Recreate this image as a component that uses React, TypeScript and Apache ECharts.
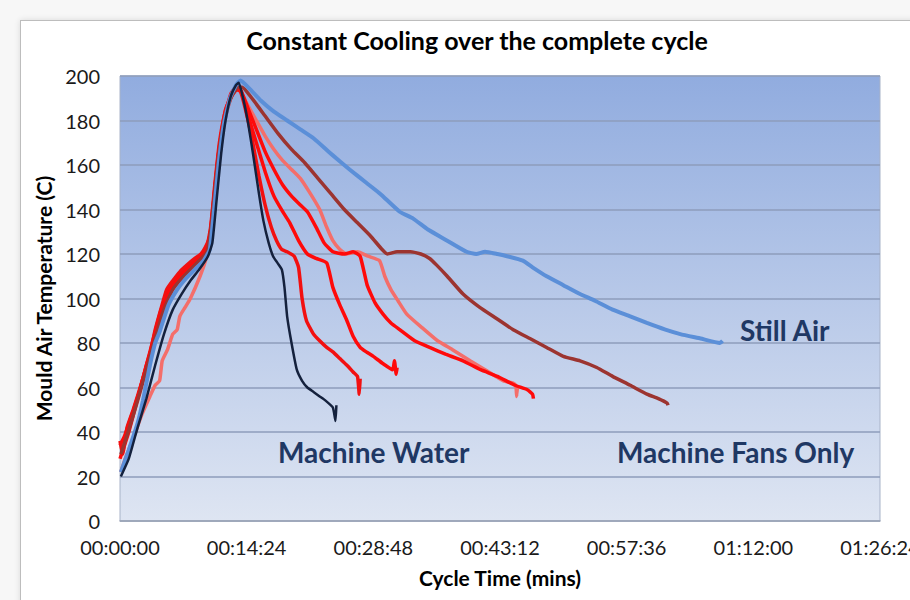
import React, { useEffect, useRef } from "react";
import * as echarts from "echarts";

// Time in minutes, temperature in °C
const xTickLabels = ["00:00:00", "00:14:24", "00:28:48", "00:43:12", "00:57:36", "01:12:00", "01:26:24"];
const yTicks = [0, 20, 40, 60, 80, 100, 120, 140, 160, 180, 200];

const titleText = "Constant Cooling over the complete cycle";
const xAxisName = "Cycle Time (mins)";
const yAxisName = "Mould Air Temperature (C)";
const annotations = ["Still Air", "Machine Water", "Machine Fans Only"];

const pinkRun: [number, number][] = [
  [0.1, 22], [0.6, 28], [1.5, 37], [2.5, 48], [3.4, 56], [4.0, 61], [4.5, 63], [4.8, 72], [5.4, 77],
  [6.0, 84], [6.5, 86], [6.8, 92], [7.4, 96], [8.0, 100], [9.1, 110], [9.8, 118], [10.3, 126],
  [10.8, 145], [11.3, 163], [11.9, 180], [12.6, 190], [13.2, 194], [13.7, 193],
  [14.5, 187], [15.5, 180], [16.5, 173], [17.5, 167], [18.5, 162], [19.5, 158], [20.5, 154],
  [21.5, 148], [22.7, 140], [23.5, 132], [24.2, 126], [25.0, 122], [25.8, 120], [27.0, 121],
  [28.2, 119], [29.5, 117], [30.1, 110], [30.8, 104], [31.6, 99], [32.6, 93], [34.3, 87],
  [36.1, 81], [37.8, 77], [39.8, 72], [41.5, 68], [43.6, 63], [44.7, 62], [45.0, 61], [45.1, 56], [45.2, 61],
];

const redRun3: [number, number][] = [
  [0.0, 34], [0.5, 38], [1.2, 46], [2.2, 58], [3.0, 70], [3.8, 82], [4.6, 94], [5.4, 102],
  [6.2, 108], [7.0, 111], [8.0, 115], [9.0, 118], [9.8, 122], [10.3, 132], [10.8, 152],
  [11.3, 170], [11.9, 183], [12.6, 191], [13.3, 194], [13.8, 193],
  [14.5, 186], [15.5, 176], [16.5, 166], [17.5, 158], [18.5, 151], [19.5, 146], [20.5, 142],
  [21.3, 139], [22.3, 132], [23.2, 125], [24.2, 121], [25.5, 120], [26.5, 121], [27.3, 119],
  [28.1, 106], [29.0, 98], [29.9, 93], [30.8, 89], [31.8, 86], [33.5, 81], [35.2, 78],
  [37.0, 75], [39.0, 72], [41.0, 68], [42.9, 65], [44.9, 61], [46.3, 59], [46.9, 57], [47.0, 55],
];

const redRun2: [number, number][] = [
  [0.0, 28], [1.0, 40], [2.0, 55], [3.0, 70], [4.0, 83], [5.0, 97], [6.0, 105], [7.0, 110],
  [8.0, 114], [9.0, 117], [9.8, 121], [10.3, 130], [10.8, 150], [11.3, 168], [11.9, 182],
  [12.6, 192], [13.2, 195], [13.7, 194],
  [14.5, 183], [15.5, 170], [16.5, 157], [17.5, 146], [18.5, 139], [19.3, 134], [20.3, 126],
  [21.3, 120], [22.3, 118], [23.5, 116], [24.2, 105], [25.0, 97], [25.8, 90], [26.5, 83],
  [27.3, 78], [28.0, 76], [28.8, 74], [29.8, 71], [31.0, 68], [31.2, 72], [31.4, 66], [31.5, 69],
];

const redRun1: [number, number][] = [
  [0.0, 36], [0.3, 30], [0.8, 42], [1.5, 50], [2.6, 64], [3.4, 75], [4.0, 86], [4.7, 96],
  [5.3, 104], [6.0, 108], [6.8, 112], [7.6, 115], [8.5, 118], [9.2, 120], [9.7, 123], [10.2, 128],
  [10.6, 142], [11.1, 162], [11.6, 176], [12.0, 185], [12.7, 191], [13.3, 194], [13.7, 193],
  [14.2, 186], [15.0, 172], [15.8, 155], [16.5, 142], [17.2, 132], [17.8, 126], [18.4, 122],
  [19.0, 121], [19.8, 119], [20.3, 114], [20.7, 100], [21.2, 90], [22.0, 84], [22.7, 81],
  [23.5, 78], [24.2, 76], [25.0, 73], [25.8, 70], [26.5, 67], [27.0, 65], [27.2, 57], [27.3, 64],
];

const brownRun: [number, number][] = [
  [0.1, 30], [1.0, 41], [2.0, 54], [3.0, 68], [4.0, 82], [5.0, 95], [6.0, 104], [7.0, 109],
  [8.0, 113], [9.0, 117], [9.9, 121], [10.4, 133], [10.9, 153], [11.4, 170], [12.0, 183],
  [12.7, 191], [13.4, 195], [13.9, 195],
  [15.0, 190], [16.5, 182], [18.0, 174], [19.5, 167], [21.0, 161], [22.5, 154], [24.0, 147],
  [25.5, 140], [27.0, 134], [28.5, 128], [29.8, 122], [30.4, 120], [31.5, 121], [33.0, 121],
  [34.2, 120], [35.2, 118], [36.0, 115], [37.2, 110], [39.0, 102], [40.9, 96], [42.8, 91],
  [44.7, 86], [46.6, 82], [48.5, 78], [50.4, 74], [52.3, 72], [54.2, 69], [56.0, 65],
  [58.0, 61], [59.9, 57], [61.2, 55], [62.2, 53], [62.3, 52],
];

const stillAirRun: [number, number][] = [
  [0.1, 22], [1.0, 32], [2.0, 44], [2.6, 54], [3.4, 70], [4.0, 80], [4.5, 85], [5.5, 97],
  [6.5, 104], [7.5, 109], [8.5, 113], [9.5, 117], [10.2, 122], [10.7, 140], [11.2, 160],
  [11.8, 178], [12.5, 190], [13.2, 196], [13.7, 198],
  [14.8, 194], [16.0, 189], [17.5, 184], [19.0, 180], [20.5, 176], [22.0, 172], [24.0, 165],
  [26.1, 158], [28.0, 152], [29.6, 147], [31.8, 139], [33.3, 136], [35.0, 131], [37.2, 126],
  [39.4, 121], [40.5, 120], [41.5, 121], [42.9, 120], [44.0, 119], [45.8, 117], [46.9, 114],
  [48.5, 110], [50.4, 106], [52.3, 102], [54.0, 99], [56.0, 95], [58.0, 92], [59.9, 89],
  [62.0, 86], [63.7, 84], [66.0, 82], [68.2, 80], [68.5, 81],
];

const machineWaterRun: [number, number][] = [
  [0.1, 20], [1.0, 28], [2.0, 42], [3.0, 55], [4.0, 70], [5.0, 84], [6.0, 95], [7.0, 102],
  [8.0, 108], [9.0, 113], [10.0, 119], [10.5, 125], [11.0, 145], [11.5, 165], [12.0, 180],
  [12.6, 191], [13.2, 196], [13.5, 197],
  [14.0, 190], [14.6, 178], [15.2, 163], [15.8, 147], [16.3, 135], [16.9, 125], [17.4, 119],
  [17.9, 116], [18.4, 113], [18.7, 105], [19.0, 92], [19.5, 80], [20.1, 68], [20.7, 63],
  [21.3, 60], [22.0, 58], [22.7, 56], [23.4, 54], [24.2, 51], [24.5, 45], [24.6, 52],
];

const seriesList = [
  { name: "Fans run 4", data: pinkRun, color: "#F46E6A", width: 3.5 },
  { name: "Fans run 3", data: redRun3, color: "#FF0A0A", width: 3.5 },
  { name: "Fans run 2", data: redRun2, color: "#FF0A0A", width: 3.5 },
  { name: "Fans run 1", data: redRun1, color: "#F21010", width: 3.5 },
  { name: "Machine Fans Only", data: brownRun, color: "#9C3430", width: 3.5 },
  { name: "Still Air", data: stillAirRun, color: "#5B8FD8", width: 4 },
  { name: "Machine Water", data: machineWaterRun, color: "#14213D", width: 2.5 },
];

export default function App() {
  const ref = useRef<HTMLDivElement>(null);

  useEffect(() => {
    if (!ref.current) return;
    const chart = echarts.init(ref.current, undefined, { renderer: "svg" });
    const axisLabelStyle = { fontFamily: "Lato", fontSize: 20, color: "#1a1a1a" };
    const annColor = "#1F3864";
    chart.setOption({
      animation: false,
      backgroundColor: "transparent",
      grid: {
        left: 120,
        top: 76,
        width: 760,
        height: 445,
        containLabel: false,
        outerBoundsMode: "none",
        show: true,
        borderColor: "#A8B3C8",
        borderWidth: 1,
        backgroundColor: new echarts.graphic.LinearGradient(0, 0, 0, 1, [
          { offset: 0, color: "#91ACDF" },
          { offset: 1, color: "#DEE5F2" },
        ]),
      },
      xAxis: {
        type: "value",
        min: 0,
        max: 86.4,
        interval: 14.4,
        name: xAxisName,
        nameLocation: "middle",
        nameGap: 46,
        nameTextStyle: { fontFamily: "Lato", fontWeight: "bold", fontSize: 21, color: "#000" },
        axisLine: { show: true, lineStyle: { color: "#A0A8B8", width: 1.5 } },
        axisTick: { show: false },
        splitLine: { show: false },
        axisLabel: {
          ...axisLabelStyle,
          margin: 16,
          showMaxLabel: true,
          formatter: (v: number) => xTickLabels[Math.round(v / 14.4)] ?? "",
        },
      },
      yAxis: {
        type: "value",
        min: yTicks[0],
        max: yTicks[yTicks.length - 1],
        interval: 20,
        name: yAxisName,
        nameLocation: "middle",
        nameGap: 60,
        nameTextStyle: { fontFamily: "Lato", fontWeight: "bold", fontSize: 21, color: "#000" },
        axisLine: { show: false },
        axisTick: { show: false },
        axisLabel: { ...axisLabelStyle, margin: 20 },
        splitLine: { show: true, lineStyle: { color: "#8E9DBB", width: 1.5 } },
      },
      series: seriesList.map((s) => ({
        name: s.name,
        type: "line",
        data: s.data,
        showSymbol: false,
        symbol: "none",
        smooth: 0.15,
        lineStyle: { color: s.color, width: s.width },
        itemStyle: { color: s.color },
      })),
      graphic: [
        {
          type: "text",
          x: 477,
          y: 40,
          style: {
            text: titleText,
            font: "bold 25px Lato",
            fill: "#000",
            align: "center",
            verticalAlign: "middle",
            textAlign: "center",
            textVerticalAlign: "middle",
          },
        },
        {
          type: "text",
          x: 740,
          y: 330,
          style: {
            text: annotations[0],
            font: "bold 28px Lato",
            fill: annColor,
            verticalAlign: "middle",
            textVerticalAlign: "middle",
          },
        },
        {
          type: "text",
          x: 278,
          y: 452,
          style: {
            text: annotations[1],
            font: "bold 28px Lato",
            fill: annColor,
            verticalAlign: "middle",
            textVerticalAlign: "middle",
          },
        },
        {
          type: "text",
          x: 617,
          y: 452,
          style: {
            text: annotations[2],
            font: "bold 28px Lato",
            fill: annColor,
            verticalAlign: "middle",
            textVerticalAlign: "middle",
          },
        },
      ],
    });
    return () => chart.dispose();
  }, []);

  return (
    <div style={{ position: "fixed", left: 0, top: 0, width: 910, height: 600, background: "#F7F7F7", overflow: "hidden" }}>
      <div
        style={{
          position: "absolute",
          left: 20,
          top: 20,
          width: 910,
          height: 600,
          background: "#FFFFFF",
          borderLeft: "1.5px solid #BDBDBD",
          borderTop: "1.5px solid #BDBDBD",
          boxShadow: "0 0 6px rgba(0,0,0,0.12)",
        }}
      />
      <div ref={ref} style={{ position: "absolute", left: 0, top: 0, width: 910, height: 600 }} />
    </div>
  );
}
